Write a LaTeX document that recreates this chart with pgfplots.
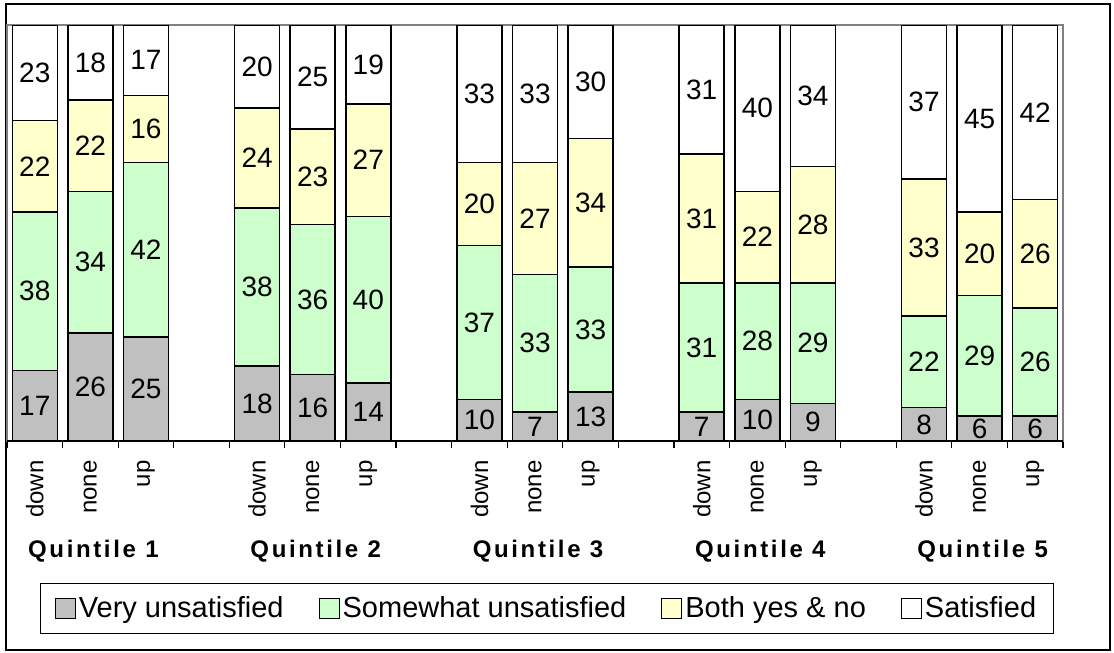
\documentclass[border=0pt]{standalone}
\usepackage{fontspec}
\setmainfont{Liberation Sans}
\usepackage{pgfplots}
\usepackage{pgfplotstable}
\pgfplotsset{compat=1.18}
\newfontfamily\qfamily[LetterSpace=11]{Liberation Sans}
\newcommand\numfont{\fontsize{14}{16}\selectfont}
\newcommand\tickfont{\fontsize{12}{14}\selectfont}
\newcommand\legfont{\fontsize{14.5}{17}\selectfont}
\definecolor{vugray}{HTML}{C0C0C0}
\definecolor{swgreen}{HTML}{CCFFCC}
\definecolor{byyellow}{HTML}{FFFFCC}

% raw answer shares per bar; tot is the row sum (100 % stacking)
\pgfplotstableread{
x  vu sw by sa tot
0  17 38 22 23 100
1  26 34 22 18 100
2  25 42 16 17 100
4  18 38 24 20 100
5  16 36 23 25 100
6  14 40 27 19 100
8  10 37 20 33 100
9  7  33 27 33 100
10 13 33 34 30 110
12 7  31 31 31 100
13 10 28 22 40 100
14 9  29 28 34 100
16 8  22 33 37 100
17 6  29 20 45 100
18 6  26 26 42 100
}\datatable

\pgfplotsset{seglabel/.style={draw=none, mark=none, nodes near coords,
    every node near coord/.append style={anchor=center, font=\numfont, inner sep=0pt, text=black}}}

\begin{document}
\begin{tikzpicture}
\useasboundingbox (0,0) rectangle (557pt,-326.5pt);
\draw[line width=0.8pt] (3pt,-2pt) rectangle (555pt,-325pt);

\begin{axis}[
    at={(3.5pt,-220.5pt)}, anchor=south west,
    scale only axis, width=528pt, height=208pt,
    ybar stacked, bar width=22.5pt,
    xmin=-0.5, xmax=18.5, ymin=0, ymax=100,
    ytick=\empty,
    xtick={0,1,2,4,5,6,8,9,10,12,13,14,16,17,18},
    xticklabels={down,none,up,down,none,up,down,none,up,down,none,up,down,none,up},
    major tick length=0pt,
    minor xtick={-0.5,0.5,...,18.5},
    minor tick length=3.5pt,
    tick align=outside, xtick pos=bottom,
    minor tick style={black, line width=0.6pt},
    xticklabel style={font=\tickfont, yshift=-9.5pt, rotate=90, anchor=east, inner sep=0pt},
    axis line style={gray, line width=0.6pt},
    legend style={at={(0.5114,-0.4038)}, anchor=center, legend columns=4,
        draw=black, line width=0.5pt, font=\legfont, inner xsep=7pt, inner ysep=5pt,
        nodes={inner sep=1.5pt},
        /tikz/every even column/.append style={column sep=16pt}},
    legend image code/.code={\draw[#1, draw=black, line width=0.5pt] (0pt,-5pt) rectangle (10pt,5pt);},
    every axis plot/.append style={draw=black, line width=0.75pt},
]
\addplot[fill=vugray] table[x=x, y expr=\thisrow{vu}*100/\thisrow{tot}] {\datatable};
\addplot[fill=swgreen] table[x=x, y expr=\thisrow{sw}*100/\thisrow{tot}] {\datatable};
\addplot[fill=byyellow] table[x=x, y expr=\thisrow{by}*100/\thisrow{tot}] {\datatable};
\addplot[fill=white] table[x=x, y expr=\thisrow{sa}*100/\thisrow{tot}] {\datatable};
\legend{Very unsatisfied, Somewhat unsatisfied, Both yes \& no, Satisfied}
\draw[black, line width=0.6pt] (rel axis cs:0,0) -- (rel axis cs:1,0);
\end{axis}

% labels in the middle of each segment
\begin{axis}[
    at={(3.5pt,-220.5pt)}, anchor=south west,
    scale only axis, width=528pt, height=208pt,
    xmin=-0.5, xmax=18.5, ymin=0, ymax=100,
    hide axis, clip=false,
    /pgf/number format/assume math mode=true,
    point meta=explicit,
]
\addplot[seglabel] table[x=x, y expr=\thisrow{vu}/2*100/\thisrow{tot}, meta=vu] {\datatable};
\addplot[seglabel] table[x=x, y expr=(\thisrow{vu}+\thisrow{sw}/2)*100/\thisrow{tot}, meta=sw] {\datatable};
\addplot[seglabel] table[x=x, y expr=(\thisrow{vu}+\thisrow{sw}+\thisrow{by}/2)*100/\thisrow{tot}, meta=by] {\datatable};
\addplot[seglabel] table[x=x, y expr=(\thisrow{vu}+\thisrow{sw}+\thisrow{by}+\thisrow{sa}/2)*100/\thisrow{tot}, meta=sa] {\datatable};
\foreach \q/\xq in {1/1,2/5,3/9,4/13,5/17} {
    \edef\tmp{\noexpand\node[anchor=base, xshift=1.5pt, yshift=-58pt, font=\noexpand\fontsize{12}{14}\noexpand\selectfont\noexpand\qfamily\noexpand\bfseries]
        at (axis cs:\xq,0) {Quintile \q};}
    \tmp
}
\end{axis}
\end{tikzpicture}
\end{document}
